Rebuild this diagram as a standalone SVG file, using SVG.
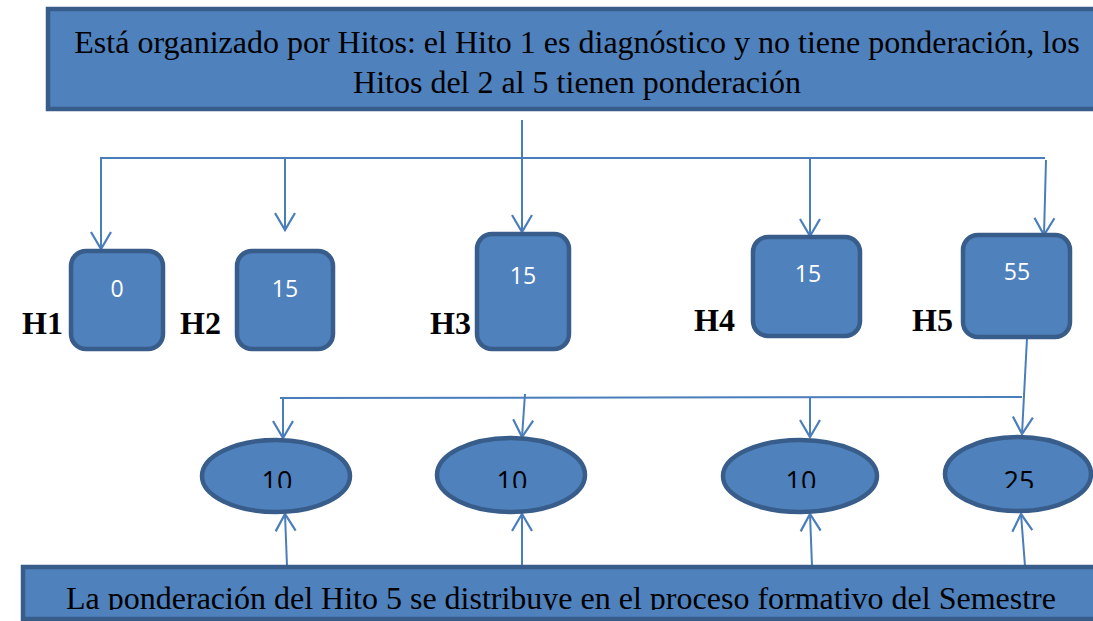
<svg xmlns="http://www.w3.org/2000/svg" width="1093" height="621" viewBox="0 0 1093 621">
<style>
.box{fill:#4f81bd;stroke:#385d8a;stroke-width:4.5}
.big{font-family:"Liberation Serif",serif;font-size:32px;fill:#000}
.lab{font-family:"Liberation Serif",serif;font-size:32px;font-weight:bold;fill:#000}
.num{font-family:"Open Sans","Liberation Sans",sans-serif;font-size:23px;fill:#fff;text-anchor:middle}
.enum{font-family:"Open Sans","Liberation Sans",sans-serif;font-size:27px;fill:#000;text-anchor:middle}
.con{fill:none;stroke:#4a7ebb;stroke-width:2}
</style>
<defs>
<marker id="ah" markerUnits="userSpaceOnUse" markerWidth="40" markerHeight="40" viewBox="-20 -20 40 40" refX="0" refY="0" orient="auto">
<path d="M-17,-10 L0,0 L-17,10" fill="none" stroke="#4a7ebb" stroke-width="2.2"/>
</marker>
<clipPath id="ec"><rect x="0" y="400" width="1093" height="88"/></clipPath>
<clipPath id="bc"><rect x="0" y="560" width="1093" height="50"/></clipPath>
</defs>
<rect x="0" y="0" width="1093" height="621" fill="#fff"/>

<g id="top">
<rect class="box" x="48" y="9" width="1060" height="100"/>
<text class="big" x="577" y="53" text-anchor="middle">Está organizado por Hitos: el Hito 1 es diagnóstico y no tiene ponderación, los</text>
<text class="big" x="577" y="93" text-anchor="middle">Hitos del 2 al 5 tienen ponderación</text>
</g>

<g id="connectors">
<line class="con" x1="522" y1="120" x2="522" y2="232" marker-end="url(#ah)"/>
<line class="con" x1="100" y1="158" x2="1045" y2="158"/>
<line class="con" x1="101" y1="158" x2="101" y2="249" marker-end="url(#ah)"/>
<line class="con" x1="285" y1="158" x2="285" y2="230" marker-end="url(#ah)"/>
<line class="con" x1="810" y1="158" x2="810" y2="236" marker-end="url(#ah)"/>
<line class="con" x1="1046" y1="160" x2="1044" y2="235" marker-end="url(#ah)"/>
<line class="con" x1="1027" y1="338" x2="1022" y2="434" marker-end="url(#ah)"/>
<line class="con" x1="280" y1="398" x2="1022" y2="397"/>
<line class="con" x1="283" y1="398" x2="283" y2="438" marker-end="url(#ah)"/>
<line class="con" x1="525" y1="394" x2="522" y2="437" marker-end="url(#ah)"/>
<line class="con" x1="810" y1="398" x2="810" y2="437" marker-end="url(#ah)"/>
<line class="con" x1="287" y1="566" x2="285" y2="514" marker-end="url(#ah)"/>
<line class="con" x1="522" y1="566" x2="522" y2="514" marker-end="url(#ah)"/>
<line class="con" x1="812" y1="566" x2="810" y2="514" marker-end="url(#ah)"/>
<line class="con" x1="1025" y1="566" x2="1021" y2="514" marker-end="url(#ah)"/>
</g>

<g id="H1">
<rect class="box" x="71" y="251" width="92" height="98" rx="15"/>
<text class="num" x="117" y="297">0</text>
<text class="lab" x="22" y="334">H1</text>
</g>
<g id="H2">
<rect class="box" x="237" y="251" width="96" height="98" rx="15"/>
<text class="num" x="285" y="297">15</text>
<text class="lab" x="180" y="334">H2</text>
</g>
<g id="H3">
<rect class="box" x="477" y="234" width="92" height="115" rx="15"/>
<text class="num" x="523" y="284">15</text>
<text class="lab" x="430" y="334">H3</text>
</g>
<g id="H4">
<rect class="box" x="753" y="237" width="107" height="99" rx="15"/>
<text class="num" x="808" y="282">15</text>
<text class="lab" x="694" y="331">H4</text>
</g>
<g id="H5">
<rect class="box" x="963" y="235" width="107" height="102" rx="15"/>
<text class="num" x="1017" y="280">55</text>
<text class="lab" x="912" y="331">H5</text>
</g>

<g id="E1">
<ellipse class="box" cx="276" cy="476" rx="74" ry="36"/>
<text class="enum" x="277" y="491" clip-path="url(#ec)">10</text>
</g>
<g id="E2">
<ellipse class="box" cx="511" cy="475" rx="74" ry="37"/>
<text class="enum" x="512" y="491" clip-path="url(#ec)">10</text>
</g>
<g id="E3">
<ellipse class="box" cx="800" cy="476" rx="77" ry="36"/>
<text class="enum" x="801" y="491" clip-path="url(#ec)">10</text>
</g>
<g id="E4">
<ellipse class="box" cx="1018" cy="474" rx="73" ry="37"/>
<text class="enum" x="1019" y="491" clip-path="url(#ec)">25</text>
</g>

<g id="bottom">
<rect class="box" x="23" y="567" width="1090" height="52"/>
<text class="big" x="561" y="609" text-anchor="middle" clip-path="url(#bc)">La ponderación del Hito 5 se distribuye en el proceso formativo del Semestre</text>
</g>
</svg>
